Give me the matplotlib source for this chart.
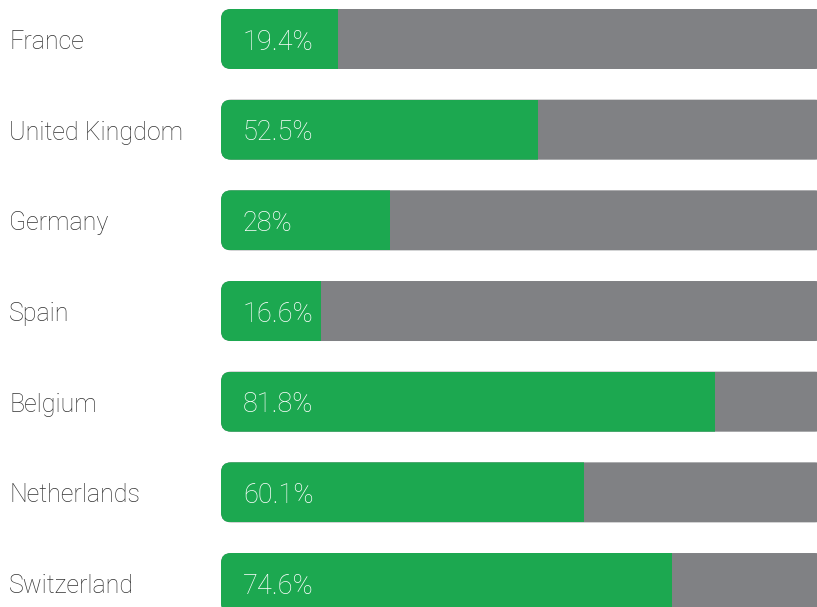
import matplotlib.pyplot as plt
from matplotlib.patches import FancyBboxPatch, Rectangle

countries = ["France", "United Kingdom", "Germany", "Spain",
             "Belgium", "Netherlands", "Switzerland"]
shares = [19.4, 52.5, 28, 16.6, 81.8, 60.1, 74.6]
share_labels = ["19.4%", "52.5%", "28%", "16.6%", "81.8%", "60.1%", "74.6%"]

verde = "#1ca850"
cinza = "#808184"
texto = "#333333"

# escala em pixels: x -> 6.04 px por ponto percentual, y -> 90.67 px por linha
px_x = 6.04
px_y = 90.67
x0 = 221 / px_x

fig = plt.figure(figsize=(8.17, 6.07), dpi=100)
ax = fig.add_axes([0, 0, 1, 1])
ax.set_xlim(-x0, 596 / px_x)
ax.set_ylim(607 / px_y - 39 / px_y, -39 / px_y)
ax.axis("off")

altura = 60 / px_y
raio = 10 / px_x
aspecto = (10 / px_y) / raio
desce = 3 / px_y

for i, (pais, valor, rotulo) in enumerate(zip(countries, shares, share_labels)):
    topo = i - altura / 2
    # fundo cinza (100%) com cantos arredondados
    fundo = FancyBboxPatch((0, topo), 100, altura,
                           boxstyle=f"round,pad=0,rounding_size={raio}",
                           mutation_aspect=aspecto, fc=cinza, ec="none")
    ax.add_patch(fundo)
    # parte verde recortada pelo fundo -> so os cantos da esquerda ficam redondos
    barra = Rectangle((0, topo), valor, altura, fc=verde, ec="none")
    ax.add_patch(barra)
    barra.set_clip_path(fundo)
    ax.text(9 / px_x - x0, i + desce, pais, ha="left", va="center",
            fontsize=18, color=texto, family="Roboto", fontweight="light")
    ax.text(22 / px_x, i + desce, rotulo, ha="left", va="center",
            fontsize=19.5, color="white", family="Roboto", fontweight="light")

plt.savefig("out.png", dpi=100)
